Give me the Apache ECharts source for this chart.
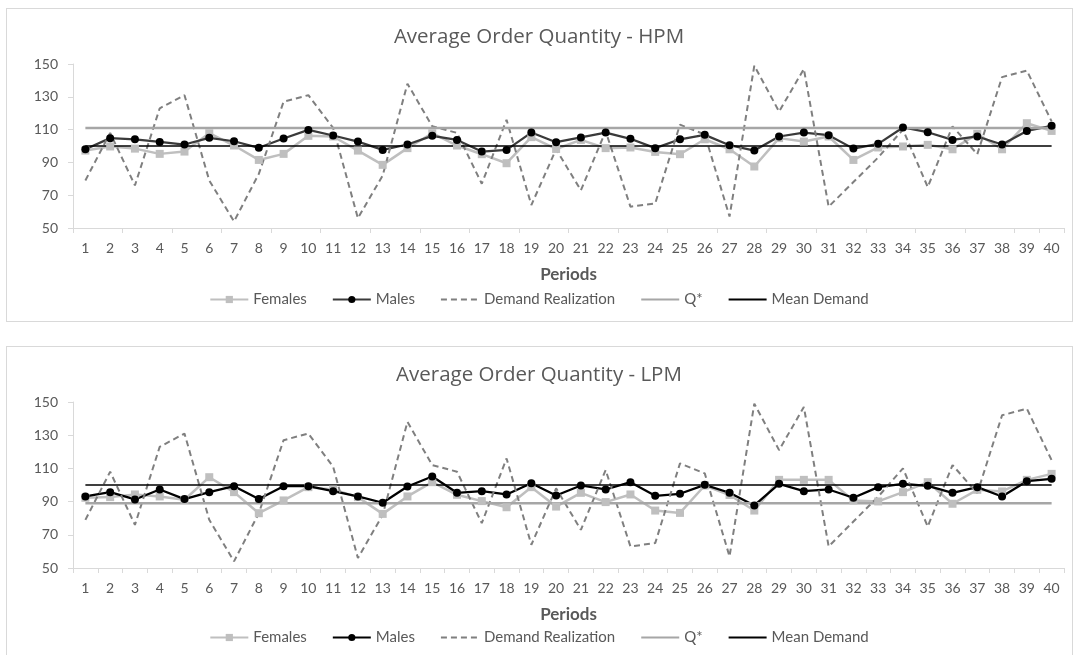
<!DOCTYPE html>
<html>
<head>
<meta charset="utf-8">
<script src="https://cdn.jsdelivr.net/npm/echarts@6/dist/echarts.min.js"></script>
<style>
  html, body { margin: 0; padding: 0; background: #ffffff; }
  body { position: relative; width: 1078px; height: 655px; overflow: hidden; }
  .frame { position: absolute; border: 1px solid #d9d9d9; box-sizing: border-box; }
  .chart { position: absolute; left: 0; width: 1078px; }
</style>
</head>
<body>
<div class="frame" style="left:6px; top:8px; width:1067px; height:314px;"></div>
<div class="frame" style="left:6px; top:346px; width:1067px; height:330px;"></div>
<div id="hpm" class="chart" style="top:0px; height:330px;"></div>
<div id="lpm" class="chart" style="top:338px; height:317px;"></div>
<script>
// Periods 1..40
const periods = Array.from({ length: 40 }, (_, i) => String(i + 1));

// Realized demand per period (same sequence in both treatments)
const demandRealization = [79, 108, 76, 123, 131, 79, 54, 83, 127, 131,
  111, 56, 82, 138, 112, 108, 77, 116, 64, 98,
  73, 109, 63, 65, 113, 107, 57, 149, 121, 147,
  63, 78, 93, 110, 75, 112, 95, 142, 146, 115];

const meanDemand = 100;

// High profit margin condition
const hpmFemales = [97.2, 99.7, 98.4, 95.2, 96.6, 107.8, 100.3, 91.5, 95.2, 106.2,
  105.8, 97.2, 88.5, 98.7, 107.8, 100.3, 95.0, 89.5, 105.4, 98.2,
  103.7, 98.7, 99.1, 96.4, 95.0, 104.1, 98.0, 87.5, 104.8, 102.7,
  105.8, 91.5, 99.1, 99.7, 100.7, 98.0, 107.4, 98.0, 113.9, 109.2];
const hpmMales = [98.0, 104.8, 104.1, 102.5, 100.9, 105.0, 102.9, 98.9, 104.6, 109.8,
  106.4, 102.7, 97.6, 100.9, 106.2, 103.7, 96.6, 97.6, 108.2, 102.3,
  105.2, 108.2, 104.4, 98.7, 104.1, 106.8, 100.5, 97.2, 105.8, 108.2,
  106.6, 98.4, 101.3, 111.3, 108.4, 103.7, 105.8, 100.9, 109.2, 112.3];
const hpmQStar = 111;

// Low profit margin condition
const lpmFemales = [92.3, 92.7, 94.3, 93.1, 91.1, 104.7, 95.7, 83.0, 90.7, 98.7,
  97.3, 92.7, 82.6, 93.1, 101.7, 94.1, 90.3, 86.6, 98.7, 87.0,
  95.3, 89.7, 94.3, 84.6, 83.2, 99.7, 94.0, 84.6, 103.1, 103.1,
  103.1, 90.7, 90.1, 95.7, 101.7, 88.7, 97.1, 96.1, 103.1, 106.7];
const lpmMales = [93.1, 95.7, 91.3, 97.3, 91.5, 95.7, 99.3, 91.5, 99.3, 99.3,
  96.3, 93.1, 89.3, 99.1, 105.1, 95.3, 96.3, 94.3, 101.1, 93.7,
  99.7, 97.3, 101.7, 93.5, 94.7, 100.1, 95.3, 87.7, 100.7, 96.3,
  97.3, 92.3, 98.7, 100.7, 99.5, 95.3, 98.7, 93.1, 102.3, 103.7];
const lpmQStar = 89;

const yTicks = { min: 50, max: 150, interval: 20 };

const FONT = 'Lato, "Open Sans", sans-serif';
const TEXT = '#595959';

// Plain-line entries keep only their line in the legend
const lineOnly = name => ({ name, itemStyle: { opacity: 0 } });

function buildOption(cfg) {
  const flat = v => periods.map(() => v);
  return {
    animation: false,
    textStyle: { fontFamily: FONT },
    title: {
      text: cfg.title,
      left: 'center',
      top: 22,
      textStyle: { fontFamily: '"Open Sans", sans-serif', fontSize: 20.5, fontWeight: 'normal', color: TEXT }
    },
    legend: {
      top: 287,
      left: 'center',
      itemWidth: 38,
      itemHeight: 9,
      itemGap: 25,
      textStyle: { fontFamily: FONT, fontSize: 15, color: TEXT },
      data: ['Females', 'Males', lineOnly('Demand Realization'), lineOnly('Q*'), lineOnly('Mean Demand')]
    },
    grid: { left: 73, right: 14, top: 64, height: cfg.gridHeight },
    xAxis: {
      type: 'category',
      data: periods,
      boundaryGap: true,
      name: 'Periods',
      nameLocation: 'middle',
      nameGap: 38,
      nameTextStyle: { fontFamily: FONT, fontSize: 17, fontWeight: 'bold', color: TEXT },
      axisLine: { lineStyle: { color: '#d9d9d9', width: 1 } },
      axisTick: { show: true, interval: cfg.tickInterval, length: 5, lineStyle: { color: '#d9d9d9' } },
      axisLabel: { interval: 0, margin: 13, fontSize: 14, color: TEXT, fontFamily: FONT },
      splitLine: { show: false }
    },
    yAxis: {
      type: 'value',
      min: yTicks.min,
      max: yTicks.max,
      interval: yTicks.interval,
      axisLine: { show: true, lineStyle: { color: '#d9d9d9', width: 1 } },
      axisTick: { show: true, length: 5, lineStyle: { color: '#d9d9d9' } },
      axisLabel: { margin: 15, fontSize: 14, color: TEXT, fontFamily: FONT },
      splitLine: { show: false }
    },
    series: [
      {
        name: 'Females', type: 'line', data: cfg.females,
        symbol: 'rect', symbolSize: 8, showAllSymbol: true,
        lineStyle: { color: '#bfbfbf', width: 2.5 },
        itemStyle: { color: '#bfbfbf' }
      },
      {
        name: 'Males', type: 'line', data: cfg.males,
        symbol: 'circle', symbolSize: 8, showAllSymbol: true,
        lineStyle: { color: cfg.maleLine, width: 2.25 },
        itemStyle: { color: '#000000' }
      },
      {
        name: 'Demand Realization', type: 'line', data: demandRealization,
        symbol: 'none',
        lineStyle: { color: '#7f7f7f', width: 2, type: [6, 4] },
        itemStyle: { color: '#7f7f7f' }
      },
      {
        name: 'Q*', type: 'line', data: flat(cfg.qStar),
        symbol: 'none',
        lineStyle: { color: '#a6a6a6', width: 2.5 },
        itemStyle: { color: '#a6a6a6' }
      },
      {
        name: 'Mean Demand', type: 'line', data: flat(meanDemand),
        symbol: 'none',
        lineStyle: { color: '#000000', width: 1.5 },
        itemStyle: { color: '#000000' }
      }
    ]
  };
}

echarts.init(document.getElementById('hpm')).setOption(buildOption({
  title: 'Average Order Quantity - HPM',
  females: hpmFemales, males: hpmMales, qStar: hpmQStar,
  tickInterval: 1, maleLine: '#3a3a3a', gridHeight: 164
}));

echarts.init(document.getElementById('lpm')).setOption(buildOption({
  title: 'Average Order Quantity - LPM',
  females: lpmFemales, males: lpmMales, qStar: lpmQStar,
  tickInterval: 0, maleLine: '#000000', gridHeight: 166
}));
</script>
</body>
</html>
